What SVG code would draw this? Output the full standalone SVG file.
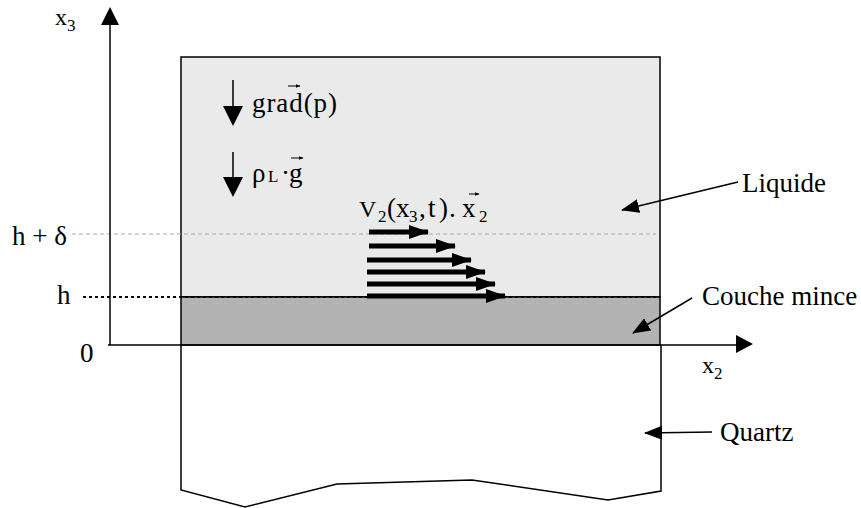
<svg xmlns="http://www.w3.org/2000/svg" width="861" height="508" viewBox="0 0 861 508" font-family="'Liberation Serif', 'Times New Roman', Times, 'DejaVu Serif', serif">
<style>
text, tspan{font-family:'Liberation Serif', 'Times New Roman', Times, 'DejaVu Serif', serif;fill:#000}
.lbl{font-size:27px}
.ax{font-size:24px}
.sub{font-size:17px}
.edge{stroke:#000;stroke-width:1.5;fill:none}
.ln{stroke:#000;stroke-width:1.5;fill:none}
.vel{stroke:#000;stroke-width:5;fill:none}
</style>
<defs>
<marker id="ah" markerUnits="userSpaceOnUse" markerWidth="18" markerHeight="14" refX="17" refY="7" orient="auto" viewBox="0 0 18 14">
<path d="M0,0 L18,7 L0,14 z" fill="#000"/>
</marker>
<marker id="vh" markerUnits="userSpaceOnUse" markerWidth="20" markerHeight="14" refX="19" refY="7" orient="auto" viewBox="0 0 20 14">
<path d="M0,0 L20,7 L0,14 z" fill="#000"/>
</marker>
<marker id="acc" markerUnits="userSpaceOnUse" markerWidth="5" markerHeight="4" refX="4.5" refY="2" orient="auto" viewBox="0 0 5 4">
<path d="M0,0 L5,2 L0,4 z" fill="#000"/>
</marker>
</defs>

<g id="quartz">
<path class="edge" d="M181,345 L181,490 L245,507 L337,484 L472,480 L608,500 L661,491 L661,345" fill="#fff"/>
</g>
<g id="liquide">
<rect x="181" y="57" width="479" height="240" fill="#eaeaea" stroke="#000" stroke-width="1.5"/>
</g>
<g id="couche">
<rect x="181" y="297" width="479" height="48" fill="#b3b3b3" stroke="#000" stroke-width="1.5"/>
</g>

<g id="levels">
<line x1="72" y1="234" x2="656" y2="234" stroke="#aaa" stroke-width="1" stroke-dasharray="4,3"/>
<line x1="83" y1="297" x2="660" y2="297" stroke="#000" stroke-width="2" stroke-dasharray="3,3"/>
</g>

<g id="axes">
<line class="ln" x1="110" y1="345" x2="110" y2="24"/>
<path d="M110,7 L119,25 L101,25 z" fill="#000"/>
<line class="ln" x1="108" y1="345" x2="737" y2="345"/>
<path d="M753,344 L736,335 L736,353 z" fill="#000"/>
<text class="ax" x="55" y="25">x<tspan class="sub" dy="6">3</tspan></text>
<text class="ax" x="702" y="373">x<tspan class="sub" dy="6">2</tspan></text>
<text class="lbl" x="80" y="362">0</text>
<text class="lbl" x="12" y="245">h + δ</text>
<text class="lbl" x="57" y="304">h</text>
</g>

<g id="forces">
<line class="ln" x1="233" y1="80" x2="233" y2="107"/>
<path d="M233,126 L223,106 L243,106 z" fill="#000"/>
<text class="lbl" x="252" y="112" textLength="85">grad(p)</text>
<line x1="288" y1="86" x2="300" y2="86" stroke="#000" stroke-width="1" marker-end="url(#acc)"/>
<line class="ln" x1="233" y1="152" x2="233" y2="178"/>
<path d="M233,197 L223,177 L243,177 z" fill="#000"/>
<text class="lbl" x="252" y="182">ρ<tspan class="sub" x="268">L</tspan><tspan x="281">·</tspan><tspan x="289">g</tspan></text>
<line x1="291" y1="158" x2="303" y2="158" stroke="#000" stroke-width="1" marker-end="url(#acc)"/>
</g>

<g id="velocity">
<text class="lbl" y="217"><tspan x="359" font-size="24">V</tspan><tspan class="sub" x="378" dy="5">2</tspan><tspan x="387" dy="-5">(</tspan><tspan x="396">x</tspan><tspan class="sub" x="409" dy="5">3</tspan><tspan x="419" dy="-5">,</tspan><tspan x="428">t</tspan><tspan x="439">)</tspan><tspan x="449">.</tspan><tspan x="462">x</tspan><tspan class="sub" x="479" dy="5">2</tspan></text>
<line x1="469" y1="194" x2="479" y2="194" stroke="#000" stroke-width="1" marker-end="url(#acc)"/>
</g>

<g id="connectors">
<line class="vel" x1="369" y1="232" x2="428" y2="232" marker-end="url(#vh)"/>
<line class="vel" x1="369" y1="246" x2="455" y2="246" marker-end="url(#vh)"/>
<line class="vel" x1="367" y1="260" x2="471" y2="260" marker-end="url(#vh)"/>
<line class="vel" x1="367" y1="272" x2="485" y2="272" marker-end="url(#vh)"/>
<line class="vel" x1="367" y1="284" x2="495" y2="284" marker-end="url(#vh)"/>
<line class="vel" x1="367" y1="296" x2="505" y2="296" marker-end="url(#vh)"/>
<line class="ln" x1="738" y1="182" x2="622" y2="210" marker-end="url(#ah)"/>
<line class="ln" x1="692" y1="298" x2="633" y2="333" marker-end="url(#ah)"/>
<line class="ln" x1="712" y1="432" x2="645" y2="433" marker-end="url(#ah)"/>
</g>

<g id="labels">
<text class="lbl" x="742" y="192">Liquide</text>
<text class="lbl" x="702" y="305">Couche mince</text>
<text class="lbl" x="720" y="441">Quartz</text>
</g>
</svg>
